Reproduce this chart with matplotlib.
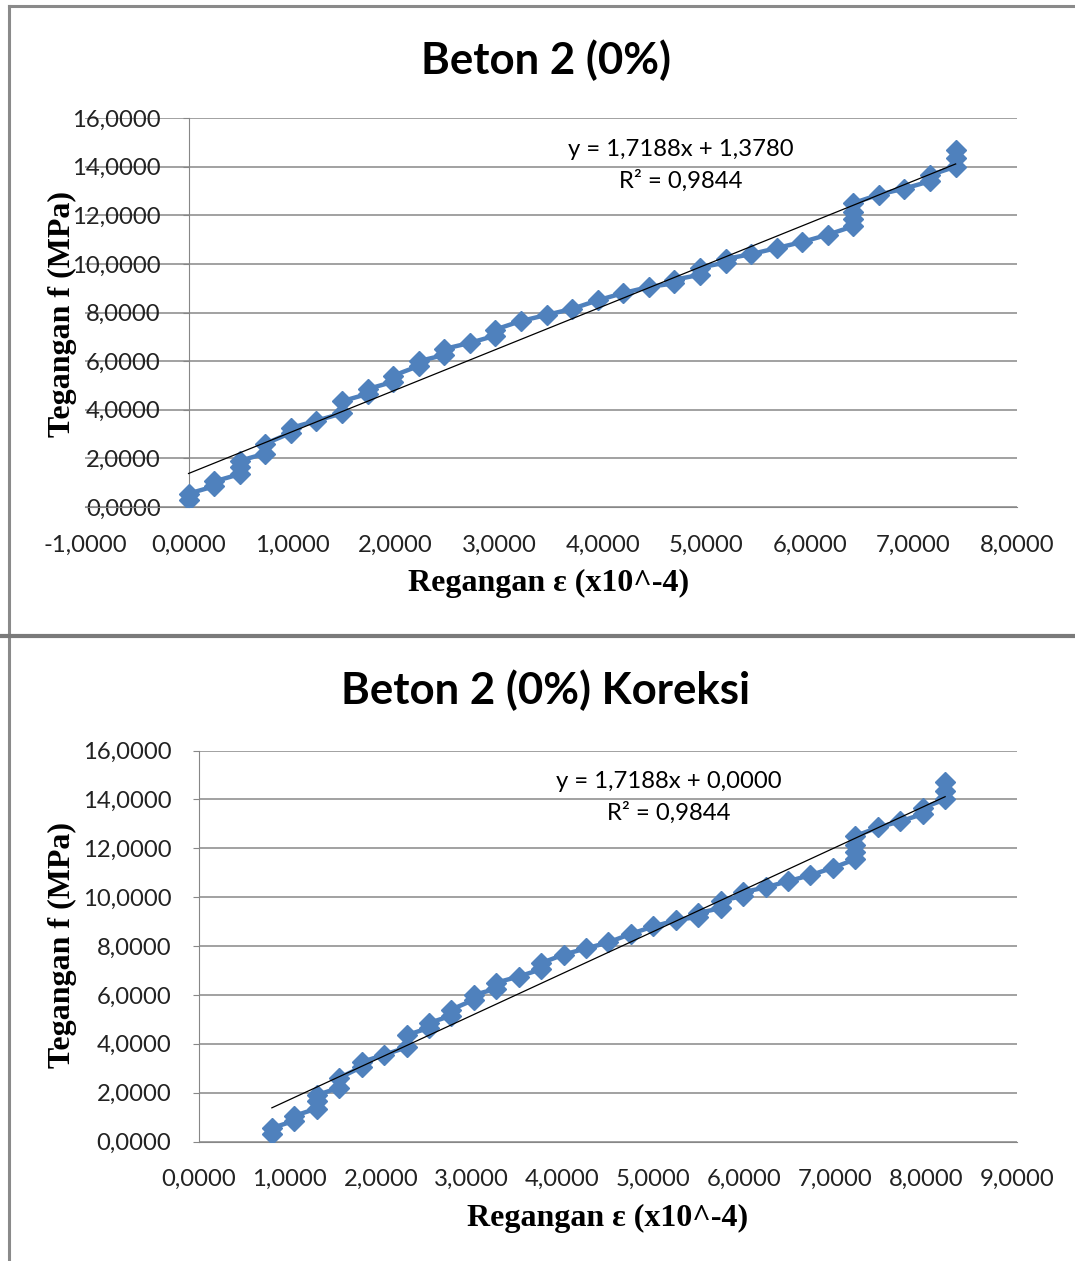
#!/usr/bin/env python
# -*- coding: utf-8 -*-
"""
Stress-strain plot for Beton 2 (0%), raw and corrected (Koreksi)
"""
import numpy as np
import matplotlib
matplotlib.use("Agg")
import matplotlib.pyplot as plt
from matplotlib.lines import Line2D
from matplotlib.ticker import FuncFormatter, MultipleLocator

# ======================= data

# strain (x10^-4), repeated where several stress readings share one strain
regangan = [0.0000, 0.0000,
            0.2469, 0.2469,
            0.4938, 0.4938, 0.4938,
            0.7407, 0.7407,
            0.9877, 0.9877,
            1.2346,
            1.4815, 1.4815,
            1.7284, 1.7284,
            1.9753, 1.9753,
            2.2222, 2.2222,
            2.4691, 2.4691,
            2.7160,
            2.9630, 2.9630,
            3.2099,
            3.4568,
            3.7037,
            3.9506,
            4.1975,
            4.4444,
            4.6914, 4.6914,
            4.9383, 4.9383,
            5.1852, 5.1852,
            5.4321,
            5.6790,
            5.9259,
            6.1728,
            6.4198, 6.4198, 6.4198, 6.4198,
            6.6667,
            6.9136,
            7.1605, 7.1605,
            7.4074, 7.4074, 7.4074]

# stress (MPa)
tegangan = [0.30, 0.55,
            0.85, 1.05,
            1.35, 1.65, 1.90,
            2.20, 2.60,
            3.05, 3.25,
            3.55,
            3.85, 4.35,
            4.65, 4.85,
            5.15, 5.40,
            5.80, 6.00,
            6.25, 6.50,
            6.75,
            7.05, 7.30,
            7.65,
            7.90,
            8.15,
            8.50,
            8.80,
            9.05,
            9.20, 9.35,
            9.55, 9.85,
            10.05, 10.20,
            10.40,
            10.65,
            10.90,
            11.20,
            11.55, 11.85, 12.15, 12.50,
            12.85,
            13.10,
            13.40, 13.65,
            14.00, 14.35, 14.70]

# linear trendline as printed on the chart
trend_slope = 1.7188
trend_intercept = 1.3780
r_squared = 0.9844

x_eps = np.array(regangan)
y_f = np.array(tegangan)

# corrected strain: shift so the trendline passes through the origin
x_kor = x_eps + trend_intercept / trend_slope

# ======================= style

W, H = 1075, 1261
BLUE = "#4F81BD"
GRID = "#878787"
tick_font = dict(family="Lato", size=17.2)
label_font = dict(family="Liberation Serif", size=23, weight="bold")
title_font = dict(family="Lato", size=31.5, weight="bold")


def comma_fmt(v, pos):
    return ("%.4f" % v).replace(".", ",")


def style_axis(ax, xlim, xstep):
    ax.set_xlim(*xlim)
    ax.set_ylim(0, 16)
    ax.xaxis.set_major_locator(MultipleLocator(xstep))
    ax.yaxis.set_major_locator(MultipleLocator(2))
    ax.xaxis.set_major_formatter(FuncFormatter(comma_fmt))
    ax.yaxis.set_major_formatter(FuncFormatter(comma_fmt))
    ax.grid(axis="y", color=GRID, lw=1.1)
    ax.set_axisbelow(True)
    for s in ["top", "right"]:
        ax.spines[s].set_visible(False)
    ax.spines["left"].set_position(("data", 0))
    ax.spines["left"].set_color(GRID)
    ax.spines["bottom"].set_color(GRID)
    ax.tick_params(axis="y", length=4, color=GRID, pad=16)
    ax.tick_params(axis="x", length=0, pad=20)
    for lab in ax.get_xticklabels() + ax.get_yticklabels():
        lab.set_fontfamily(tick_font["family"])
        lab.set_fontsize(tick_font["size"])
        lab.set_color("#222222")


def px(x, y):
    # pixel position in the picture -> figure fraction
    return x / W, 1 - y / H


fig = plt.figure(figsize=(W / 100, H / 100), dpi=100)

# ======================= top chart (raw)

ax1 = fig.add_axes([85 / W, 1 - 507 / H, 932 / W, 389 / H])
ax1.plot(x_eps, y_f, "-D", color=BLUE, ms=10.5, lw=3.2, zorder=3)
xt = np.array([x_eps.min(), x_eps.max()])
ax1.plot(xt, trend_slope * xt + trend_intercept, color="black", lw=0.9, zorder=4)
style_axis(ax1, (-1, 8), 1)
ax1.text(4.75, 14.7,
         "y = %sx + %s" % (comma_fmt(trend_slope, 0), comma_fmt(trend_intercept, 0)),
         ha="center", va="center", **tick_font)
ax1.text(4.75, 13.4, "R² = %s" % comma_fmt(r_squared, 0),
         ha="center", va="center", **tick_font)

fig.text(*px(546, 60), "Beton 2 (0%)", ha="center", va="center", **title_font)
fig.text(*px(62, 314), "Tegangan f (MPa)", rotation=90, ha="center", va="center", **label_font)
fig.text(*px(549, 583), "Regangan ε (x10^-4)", ha="center", va="center", **label_font)

# ======================= bottom chart (koreksi)

ax2 = fig.add_axes([199 / W, 1 - 1141.5 / H, 818 / W, 391 / H])
ax2.plot(x_kor, y_f, "-D", color=BLUE, ms=10.5, lw=3.2, zorder=3)
xt2 = np.array([x_kor.min(), x_kor.max()])
ax2.plot(xt2, trend_slope * xt2, color="black", lw=0.9, zorder=4)
style_axis(ax2, (0, 9), 1)
ax2.text(5.17, 14.75,
         "y = %sx + %s" % (comma_fmt(trend_slope, 0), comma_fmt(0, 0)),
         ha="center", va="center", **tick_font)
ax2.text(5.17, 13.45, "R² = %s" % comma_fmt(r_squared, 0),
         ha="center", va="center", **tick_font)

fig.text(*px(546, 690), "Beton 2 (0%) Koreksi", ha="center", va="center", **title_font)
fig.text(*px(62, 945), "Tegangan f (MPa)", rotation=90, ha="center", va="center", **label_font)
fig.text(*px(608, 1218), "Regangan ε (x10^-4)", ha="center", va="center", **label_font)

# ======================= chart frames

frame = dict(color="#8a8a8a", lw=2.2, transform=fig.transFigure)
fig.add_artist(Line2D([9 / W, 1], [1 - 6 / H, 1 - 6 / H], **frame))
fig.add_artist(Line2D([9 / W, 9 / W], [1 - 6 / H, 1 - 636 / H], **frame))
fig.add_artist(Line2D([9 / W, 9 / W], [0, 1 - 636 / H], **frame))
fig.add_artist(Line2D([0, 1], [1 - 636 / H, 1 - 636 / H],
                      color="#7a7a7a", lw=3, transform=fig.transFigure))

fig.savefig("out.png", dpi=100)
